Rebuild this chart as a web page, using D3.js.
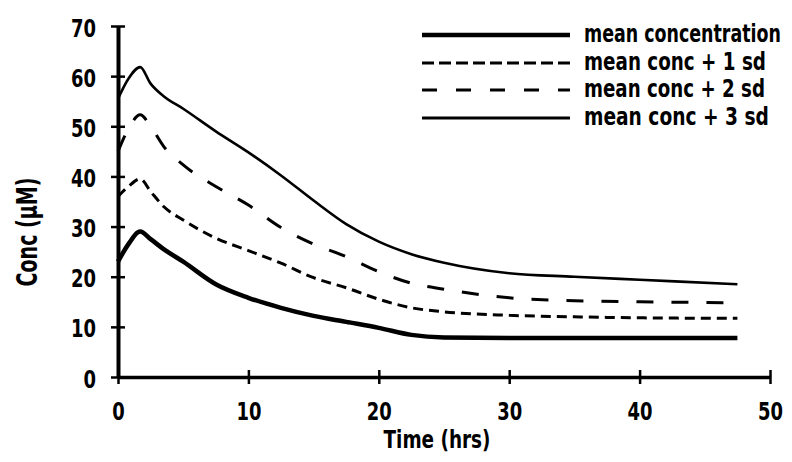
<!DOCTYPE html>
<html><head><meta charset="utf-8">
<script src="https://cdn.jsdelivr.net/npm/d3@7"></script>
<style>
body{margin:0;background:#fff;}
svg{display:block;}
text{font-family:"DejaVu Sans Condensed","DejaVu Sans",sans-serif;font-weight:bold;fill:#000;}
</style></head>
<body><svg id="c" width="792" height="462"></svg>
<script>
// ---- data ----
const times     = [0, 0.8, 1.7, 2.5, 3.5, 5, 7.5, 10, 12.5, 15, 17.5, 20, 22.5, 25, 30, 35, 40, 47.5];
const meanConc  = [23, 26.5, 29, 27.5, 25.5, 23, 18.5, 15.8, 13.8, 12.2, 11, 9.8, 8.4, 7.9, 7.8, 7.8, 7.8, 7.8];
const plus1sd   = [36, 38, 39.5, 37, 34, 31.3, 27.7, 25.2, 22.7, 19.8, 17.8, 15.5, 13.8, 13, 12.3, 12, 11.8, 11.7];
const plus2sd   = [45, 49.5, 52.3, 50, 46, 42.3, 38, 34.3, 29.8, 26.5, 24, 21, 18.7, 17.5, 15.8, 15.2, 15, 14.8];
const plus3sd   = [55.5, 59.5, 61.8, 58.5, 56, 53.5, 49, 44.8, 40.2, 35.2, 30.5, 27, 24.5, 22.8, 20.7, 20, 19.4, 18.5];
const seriesNames = ["mean concentration", "mean conc + 1 sd", "mean conc + 2 sd", "mean conc + 3 sd"];
const xTicks = [0, 10, 20, 30, 40, 50];
const yTicks = [0, 10, 20, 30, 40, 50, 60, 70];
const xLabel = "Time (hrs)";
const yLabel = "Conc (\u00b5M)";

// ---- styles ----
const styles = [
  {w: 4.5, dash: null,    legDash: null},
  {w: 3,   dash: "10,6",  legDash: "12,5"},
  {w: 3,   dash: "17,18", legDash: "15,19"},
  {w: 2.6, dash: null,    legDash: null}
];
const legWidths = [197, 182, 181, 185];
const seriesValues = [meanConc, plus1sd, plus2sd, plus3sd];

const svg = d3.select("#c");
const x = d3.scaleLinear().domain([0, 50]).range([118, 770]);
const y = d3.scaleLinear().domain([0, 70]).range([377, 26]);

// squeeze a text horizontally to a target width (keeps it real text)
function fit(sel, px, py, width, extra) {
  sel.each(function(d) {
    const t = d3.select(this).attr("x", 0).attr("y", 0).attr("dy", null);
    const w = this.getComputedTextLength();
    const tw = typeof width === "function" ? width(d) : width;
    const X = typeof px === "function" ? px(d) : px;
    const Y = typeof py === "function" ? py(d) : py;
    t.attr("transform", `translate(${X},${Y})${extra || ""} scale(${tw / w},1)`);
  });
}

// lines
const line = d3.line().x(d => x(d[0])).y(d => y(d[1])).curve(d3.curveMonotoneX);
seriesValues.forEach((vals, i) => {
  const pts = times.map((t, j) => [t, vals[j]]);
  svg.append("path").datum(pts)
    .attr("d", line)
    .attr("fill", "none")
    .attr("stroke", "#000")
    .attr("stroke-width", styles[i].w)
    .attr("stroke-dasharray", styles[i].dash)
    .attr("stroke-linejoin", "round");
});

// y axis
const yAxis = svg.append("g").attr("transform", `translate(${x(0)},0)`)
  .call(d3.axisLeft(y).tickValues(yTicks).tickSize(7).tickSizeOuter(0));
yAxis.select(".domain").attr("stroke-width", 4);
yAxis.selectAll(".tick line").attr("x1", 7).attr("stroke-width", 2.5);
yAxis.selectAll(".tick text")
  .attr("font-size", 24).attr("font-family", null).attr("font-weight", null)
  .call(fit, -22, 10, d => String(d).length * 12.5);

// x axis
const xAxis = svg.append("g").attr("transform", `translate(0,${y(0)})`)
  .call(d3.axisBottom(x).tickValues(xTicks).tickSize(7).tickSizeOuter(0));
xAxis.select(".domain").attr("stroke-width", 3.5);
xAxis.selectAll(".tick line").attr("y1", -7).attr("stroke-width", 2.5);
xAxis.selectAll(".tick text")
  .attr("font-size", 24).attr("font-family", null).attr("font-weight", null)
  .call(fit, 0, 43, d => String(d).length * 12.5);

// axis titles
svg.append("text").attr("text-anchor", "middle")
  .attr("font-size", 25).text(xLabel)
  .call(fit, 437, 448, 107);
svg.append("text").attr("text-anchor", "middle")
  .attr("font-size", 29).text(yLabel)
  .call(fit, 37, 232, 109, " rotate(-90)");

// legend
const legY = [35, 63, 90, 118];
seriesNames.forEach((name, i) => {
  const g = svg.append("g");
  g.append("line").attr("x1", 422).attr("x2", 570).attr("y1", legY[i]).attr("y2", legY[i])
    .attr("stroke", "#000").attr("stroke-width", i === 0 ? 4.5 : 3)
    .attr("stroke-dasharray", styles[i].legDash);
  g.append("text").attr("font-size", 24).text(name)
    .call(fit, 584, legY[i] + 7, legWidths[i]);
});
</script></body></html>
